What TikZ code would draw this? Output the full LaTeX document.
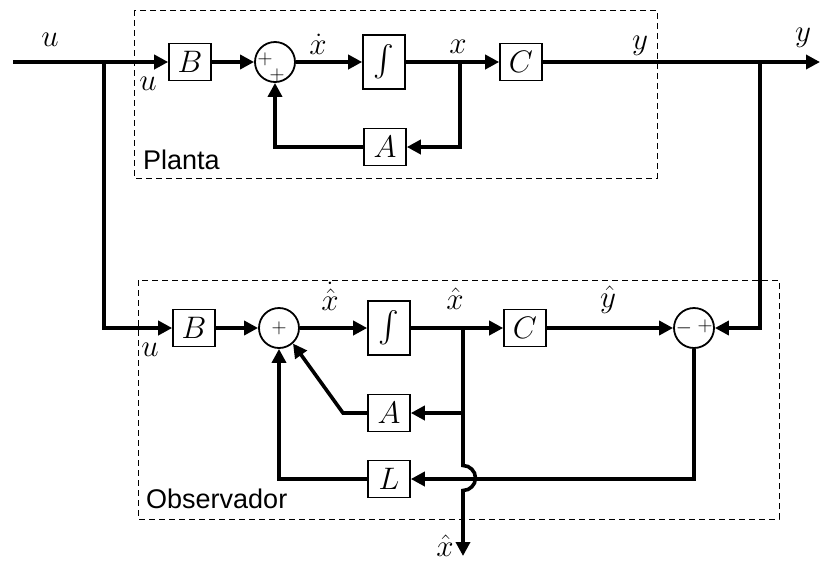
\documentclass[tikz,border=0pt]{standalone}
\usepackage{exscale}
\usepackage{fontspec}
\setsansfont{Liberation Sans}
\usetikzlibrary{arrows.meta,positioning}
\newcommand\sig[1]{\scalebox{1.25}{$#1$}}
\begin{document}
\begin{tikzpicture}[x=1pt,y=-1pt,
  blk/.style={draw,line width=1.6pt,minimum width=42pt,minimum height=37pt,inner sep=0pt,font=\Huge},
  summ/.style={draw,circle,line width=1.8pt,minimum size=40pt,inner sep=0pt},
  sigl/.style={line width=3.6pt},
  arr/.style={sigl,-{Triangle[length=14pt,width=14pt]}},
  lbl/.style={font=\Huge,inner sep=0pt},
  sgn/.style={font=\huge,inner sep=0pt},
  zone/.style={draw,line width=1pt,dash pattern=on 6pt off 4pt},
  zonelbl/.style={font=\sffamily\fontsize{27}{27}\selectfont,anchor=west,inner sep=0pt}]
\useasboundingbox (0,0) rectangle (820,563);
% zones
\draw[zone] (134,10) rectangle (657,178);
\node[zonelbl] (planta) at (143,160) {Planta};
\draw[zone] (138,280) rectangle (779,519);
\node[zonelbl] (obs) at (146,499) {Observador};
% plant blocks
\node[blk] (B1) at (190,62) {\sig{B}};
\node[summ] (S1) at (275,62) {};
\node[sgn] at (265,59) {$+$};
\node[sgn] at (277,75) {$+$};
\node[blk,minimum height=54pt] (I1) at (384,62) {\sig{\int}};
\node[blk] (C1) at (521,62) {\sig{C}};
\node[blk] (A1) at (385,147) {\sig{A}};
\coordinate (uin) at (13,62);
\coordinate (jU) at (104,62);
\coordinate (jX) at (460,62);
\coordinate (jY) at (760,62);
\coordinate (yout) at (820,62);
% observer blocks
\node[blk] (B2) at (194,328) {\sig{B}};
\node[summ] (S2) at (279,328) {};
\node[sgn] at (S2) {$+$};
\node[blk,minimum height=54pt] (I2) at (389,328) {\sig{\int}};
\node[blk] (C2) at (525,328) {\sig{C}};
\node[summ] (D2) at (694,328) {};
\node[sgn] at (684,328) {$-$};
\node[sgn] at (705,326) {$+$};
\node[blk] (A2) at (389,413) {\sig{A}};
\node[blk] (L2) at (389,479) {\sig{L}};
\coordinate (jXh) at (463,328);
\coordinate (jA) at (463,413);
\coordinate (kA) at (343,413);
\coordinate (hopT) at (463,465.5);
\coordinate (xout) at (463,556);
% plant signals
\draw[arr] (uin) -- (B1.west);
\draw[arr] (B1.east) -- (S1.west);
\draw[arr] (S1.east) -- (I1.west);
\draw[arr] (I1.east) -- (C1.west);
\draw[arr] (C1.east) -- (yout);
\draw[arr] (jX) |- (A1.east);
\draw[arr] (A1.west) -| (S1.south);
% observer signals
\draw[arr] (jU) |- (B2.west);
\draw[arr] (jY) |- (D2.east);
\draw[arr] (B2.east) -- (S2.west);
\draw[arr] (S2.east) -- (I2.west);
\draw[arr] (I2.east) -- (C2.west);
\draw[arr] (C2.east) -- (D2.west);
\draw[arr] (jA) -- (A2.east);
\draw[arr] (A2.west) -- (kA) -- (S2.-48);
\draw[arr] (D2.south) |- (L2.east);
\draw[arr] (L2.west) -| (S2.south);
\draw[arr] (jXh) -- (hopT) arc[start angle=90,end angle=-90,radius=12.5pt] -- (xout);
% labels
\node[lbl] (lu1) at (50,40) {\sig{u}};
\node[lbl] (lu2) at (148,84) {\sig{u}};
\node[lbl] (lxd) at (318,44) {\sig{\dot{x}}};
\node[lbl] (lx) at (458,47) {\sig{x}};
\node[lbl] (ly1) at (640,46) {\sig{y}};
\node[lbl] (ly2) at (803,38) {\sig{y}};
\node[lbl] (lu3) at (150,350) {\sig{u}};
\node[lbl] (lxhd) at (330,296) {\sig{\dot{\hat{x}}}};
\node[lbl] (lxh) at (455,299) {\sig{\hat{x}}};
\node[lbl] (lyh) at (608,300) {\sig{\hat{y}}};
\node[lbl] (lxo) at (445,546) {\sig{\hat{x}}};
\end{tikzpicture}
\end{document}
